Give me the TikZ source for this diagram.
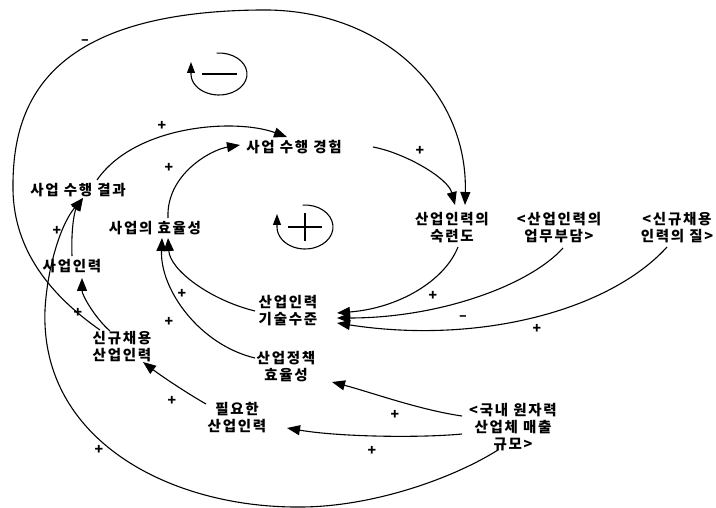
\documentclass[tikz,border=0pt]{standalone}
\usepackage{fontspec}
\newfontfamily\kr[LetterSpace=12]{Noto Sans CJK KR}
\usetikzlibrary{arrows.meta}

\begin{document}
\begin{tikzpicture}[x=1pt, y=-1pt, >={Triangle[length=13pt,width=10pt]},
    var/.style={font=\kr\bfseries\fontsize{14.5}{17}\selectfont, align=center, inner sep=0pt},
    pol/.style={font=\kr\bfseries\fontsize{14}{14}\selectfont, inner sep=0pt},
    link/.style={->, line width=1.1pt},
    loopsym/.style={->, line width=1.1pt, >={Triangle[length=11pt,width=8pt]}}]
    \useasboundingbox (0,0) rectangle (716,508);

    % variables
    \node[var] (res)    at (78,190)  {사업 수행 결과};
    \node[var] (exp)    at (294,147) {사업 수행 경험};
    \node[var] (eff)    at (155,228) {사업의 효율성};
    \node[var] (staff)  at (72,266)  {사업인력};
    \node[var] (skill)  at (452,228) {산업인력의\\숙련도};
    \node[var] (load)   at (559,228) {<산업인력의\\업무부담>};
    \node[var] (qual)   at (677,228) {<신규채용\\인력의 질>};
    \node[var] (tech)   at (288,311) {산업인력\\기술수준};
    \node[var] (hire)   at (122,347) {신규채용\\산업인력};
    \node[var] (policy) at (286,367) {산업정책\\효율성};
    \node[var] (need)   at (237,418) {필요한\\산업인력};
    \node[var] (sales)  at (513,427) {<국내 원자력\\산업체 매출\\규모>};

    % links
    \draw[link] ([shift={(19,-10)}]res.center) .. controls (135,125) and (235,118) .. ([shift={(-7,-10)}]exp.center);
    \draw[link] ([shift={(13,-10)}]eff.center) .. controls (166,175) and (210,150) .. ([shift={(-54,-2)}]exp.center);
    \draw[link] ([shift={(79,0)}]exp.center) .. controls (405,153) and (448,178) .. ([shift={(3,-23)}]skill.center);
    \draw[link] ([shift={(-22,-17)}]hire.center) .. controls (50,295) and (14,250) .. (13,190)
        .. controls (12,110) and (40,12) .. (260,10)
        .. controls (380,8) and (468,90) .. ([shift={(13,-23)}]skill.center);
    \draw[link] ([shift={(0,-10)}]staff.center) .. controls (71,232) and (74,212) .. ([shift={(5,8)}]res.center);
    \draw[link] ([shift={(-15,23)}]sales.center) .. controls (450,480) and (370,507) .. (300,507)
        .. controls (170,508) and (40,440) .. (45,310)
        .. controls (47,270) and (60,225) .. ([shift={(5,8)}]res.center);
    \draw[link] ([shift={(-12,-16)}]hire.center) .. controls (95,318) and (82,295) .. ([shift={(10,12)}]staff.center);
    \draw[link] ([shift={(-31,-14)}]need.center) .. controls (185,392) and (160,375) .. ([shift={(21,15)}]hire.center);
    \draw[link] ([shift={(-51,7)}]sales.center) .. controls (420,438) and (340,437) .. ([shift={(50,10)}]need.center);
    \draw[link] ([shift={(-51,-11)}]sales.center) .. controls (420,410) and (370,392) .. ([shift={(46,15)}]policy.center);
    \draw[link] ([shift={(-31,-9)}]policy.center) .. controls (200,345) and (160,290) .. ([shift={(7,10)}]eff.center);
    \draw[link] ([shift={(-33,0)}]tech.center) .. controls (210,300) and (170,270) .. ([shift={(13,10)}]eff.center);
    \draw[link] ([shift={(6,19)}]skill.center) .. controls (445,280) and (400,308) .. ([shift={(49,2)}]tech.center);
    \draw[link] ([shift={(4,20)}]load.center) .. controls (530,285) and (440,318) .. ([shift={(49,7)}]tech.center);
    \draw[link] ([shift={(-10,19)}]qual.center) .. controls (610,310) and (480,345) .. ([shift={(49,12)}]tech.center);

    % polarities
    \node[pol] (p1)  at (162,126) {+};
    \node[pol] (p2)  at (169,168) {+};
    \node[pol] (p3)  at (420,151) {+};
    \node[pol] (p4)  at (85,42)   {–};
    \node[pol] (p5)  at (57,231)  {+};
    \node[pol] (p6)  at (78,313)  {+};
    \node[pol] (p7)  at (182,294) {+};
    \node[pol] (p8)  at (169,322) {+};
    \node[pol] (p9)  at (433,296) {+};
    \node[pol] (p10) at (463,318) {–};
    \node[pol] (p11) at (537,329) {+};
    \node[pol] (p12) at (395,415) {+};
    \node[pol] (p13) at (372,451) {+};
    \node[pol] (p14) at (172,401) {+};
    \node[pol] (p15) at (99,450)  {+};

    % loop symbols
    \coordinate (balc) at (219,74);
    \draw[loopsym] ([shift={(95:28pt and 21pt)}]balc) arc[start angle=95, end angle=-180, x radius=28pt, y radius=21pt] -- ++(0pt,12pt);
    \draw[line width=2.6pt] ([xshift=-17pt]balc) -- ([xshift=18pt]balc);

    \coordinate (reic) at (305,227);
    \draw[loopsym] ([shift={(95:28pt and 22pt)}]reic) arc[start angle=95, end angle=-180, x radius=28pt, y radius=22pt] -- ++(0pt,13pt);
    \draw[line width=2.6pt] ([xshift=-17pt]reic) -- ([xshift=17pt]reic);
    \draw[line width=2.6pt] ([yshift=14pt]reic) -- ([yshift=-14pt]reic);
\end{tikzpicture}
\end{document}
